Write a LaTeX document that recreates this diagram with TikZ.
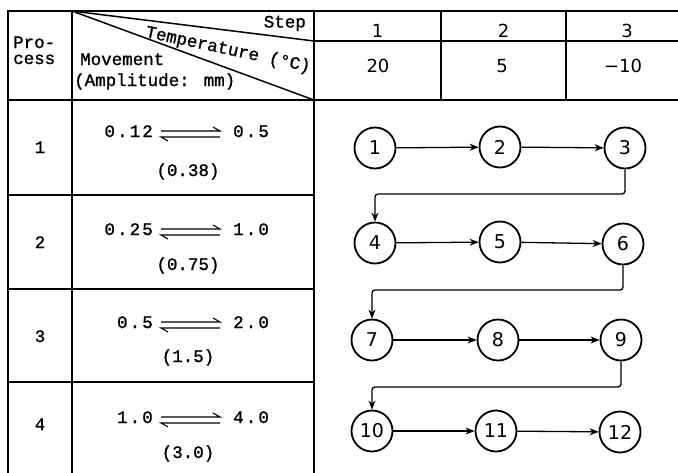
\documentclass[tikz,border=0pt]{standalone}
\usepackage{fontspec}
\setmainfont[FakeBold=1.2]{Liberation Mono}
\newfontfamily\wmonofont[LetterSpace=12,FakeBold=1.2]{Liberation Mono}
\newfontfamily\digfont{DejaVu Sans}
\usetikzlibrary{arrows.meta}
\newcommand\tmono{\fontsize{17.5}{20}\selectfont}
\begin{document}
\begin{tikzpicture}[x=1pt,y=-1pt,
  tline/.style={line width=1.9pt, line cap=rect},
  lbl/.style={inner sep=0pt, font=\tmono},
  wlbl/.style={inner sep=0pt, font=\wmonofont\tmono},
  hdig/.style={inner sep=0pt, font=\digfont\fontsize{18}{20}\selectfont},
  circ/.style={circle, draw, line width=1.8pt, minimum size=41pt, inner sep=0pt, font=\digfont\fontsize{19}{20}\selectfont},
  arr/.style={line width=1.3pt, -{Stealth[length=9pt,width=7pt]}},
  eq/.style={line width=1.1pt}]
\useasboundingbox (0,0) rectangle (678,472);
\begin{scope}
\clip (0,0) rectangle (678,472);
% table lines
\draw[tline] (8,11) -- (700,11);
\draw[tline] (8,11) -- (8,490);
\draw[tline] (72,11) -- (72,490);
\draw[tline] (314,11) -- (314,490);
\draw[tline] (441,11) -- (441,100);
\draw[tline] (566,11) -- (566,100);
\draw[tline] (314,41) -- (700,41);
\draw[tline] (8,100) -- (700,100);
\draw[tline] (8,195) -- (314,195);
\draw[tline] (8,289) -- (314,289);
\draw[tline] (8,382) -- (314,382);
\draw[line width=1.5pt] (72,11) -- (314,41);
\draw[line width=1.5pt] (72,11) -- (314,100);
\end{scope}
% header texts
\node[lbl, anchor=base east] (step) at (306,27.5) {Step};
\node[lbl, rotate=-12] (temp) at (228,50) {Temperature (°C)};
\node[lbl, anchor=base west] (mov) at (80,65) {Movement};
\node[lbl, anchor=base west] (amp) at (74,86) {(Amplitude: mm)};
\node[lbl, anchor=base west] (pro) at (13,48) {Pro-};
\node[lbl, anchor=base west] (cess) at (13,64) {cess};
\node[hdig, anchor=base] (s1) at (377.5,37) {1};
\node[hdig, anchor=base] (s2) at (503.5,37) {2};
\node[hdig, anchor=base] (s3) at (627,37) {3};
\node[hdig, anchor=base] (t1) at (378,72) {20};
\node[hdig, anchor=base] (t2) at (502,72) {5};
\node[hdig, anchor=base] (t3) at (623,72) {−10};
% rows
\foreach \n/\pb/\ba/\bb/\la/\ra/\mid in {1/153/137/176/0.12/0.5/(0.38),2/248/235/270/0.25/1.0/(0.75),3/342/328/362/0.5/2.0/(1.5),4/430/423/458/1.0/4.0/(3.0)}{
  \node[lbl, anchor=base] (p\n) at (40,\pb) {\n};
  \node[wlbl, anchor=base east] (l\n) at (153,\ba) {\la};
  \node[wlbl, anchor=base west] (r\n) at (233,\ba) {\ra};
  \node[lbl, anchor=base] (m\n) at (188,\bb) {\mid};
  \draw[eq] ([shift={(8,-6)}]l\n.base east) -- ++(59,0) -- ++(-7,-4);
  \draw[eq] ([shift={(67,0)}]l\n.base east) -- ++(-59,0) -- ++(7,4);
}
% circles
\node[circ] (c1) at (375,148) {1};
\node[circ] (c2) at (500,147) {2};
\node[circ] (c3) at (625,148) {3};
\node[circ] (c4) at (375,243) {4};
\node[circ] (c5) at (500,242) {5};
\node[circ] (c6) at (623,244) {6};
\node[circ] (c7) at (372,340) {7};
\node[circ] (c8) at (498,340) {8};
\node[circ] (c9) at (621,340) {9};
\node[circ] (c10) at (372,431) {10};
\node[circ] (c11) at (496,431) {11};
\node[circ] (c12) at (620,432) {12};
\draw[arr] (c1) -- (c2);
\draw[arr] (c2) -- (c3);
\draw[arr] (c4) -- (c5);
\draw[arr] (c5) -- (c6);
\draw[arr] (c7) -- (c8);
\draw[arr] (c8) -- (c9);
\draw[arr] (c10) -- (c11);
\draw[arr] (c11) -- (c12);
\coordinate (k34) at (500,194);
\coordinate (k67) at (500,290);
\coordinate (k910) at (500,387);
\draw[arr, rounded corners=3pt] (c3.south) |- (k34) -| (c4.north);
\draw[arr, rounded corners=3pt] (c6.south) |- (k67) -| (c7.north);
\draw[arr, rounded corners=3pt] (c9.south) |- (k910) -| (c10.north);
\end{tikzpicture}
\end{document}
